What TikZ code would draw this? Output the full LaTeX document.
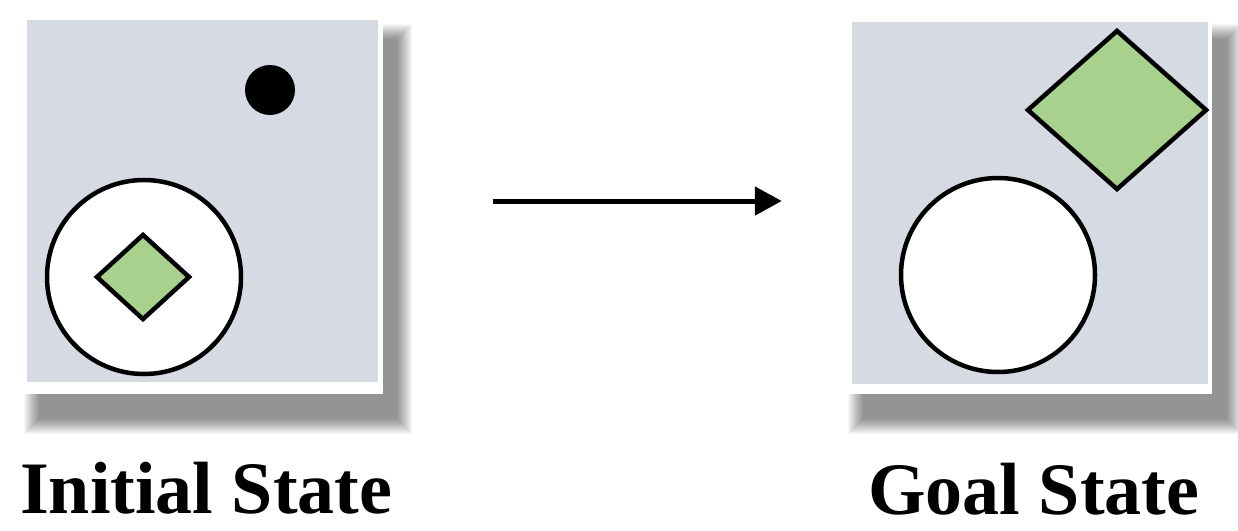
\documentclass[tikz,border=0pt]{standalone}
\usepackage{fontspec}
\setmainfont{Liberation Serif}
\usetikzlibrary{shapes.geometric,arrows.meta}
\definecolor{panelgray}{RGB}{214,219,227}
\definecolor{leafgreen}{RGB}{169,209,142}
\tikzset{
  panel/.style={draw=none,fill=panelgray,rectangle,inner sep=0pt,minimum width=#1,minimum height=362pt},
  ring/.style={circle,draw=black,line width=4.5pt,fill=white,inner sep=0pt,minimum size=194pt},
  gem/.style={diamond,draw=black,line width=4.5pt,fill=leafgreen,inner sep=0pt},
  caption/.style={anchor=base west,inner sep=0pt,font=\fontsize{74}{80}\selectfont\bfseries},
  flow/.style={line width=5pt,-{Triangle[length=27pt,width=28pt]}}
}
\newcommand{\softshadow}[4]{%
  \foreach \i in {0,...,15}{%
    \fill[black,opacity=0.03] ({#1+\i},{#2+\i}) rectangle ({#3-\i},{#4-\i});
  }%
}
\begin{document}
\begin{tikzpicture}[x=1pt,y=-1pt]
\useasboundingbox (0,0) rectangle (1238,530);
\fill[white] (0,0) rectangle (1238,530);
% left panel
\softshadow{24}{24}{412}{434}
\fill[white] (22,16) rectangle (383,394);
\node[panel=351pt] (init) at (202.5,201) {};
\node[circle,fill=black,inner sep=0pt,minimum size=50pt] (dot) at (270,90) {};
\node[ring] (ringA) at (144,277) {};
\node[gem,minimum width=94pt,minimum height=86pt] (gemA) at (143,277) {};
% right panel
\softshadow{848}{24}{1242}{434}
\fill[white] (847,17) rectangle (1212,394);
\node[panel=356pt] (goal) at (1030,202.5) {};
\node[ring] (ringB) at (998,275) {};
\node[gem,minimum width=180pt,minimum height=160pt] (gemB) at (1117,110) {};
% arrow
\draw[flow,shorten <=115pt,shorten >=70pt] (init.east) -- (goal.west |- init.east);
% captions
\node[caption] (capA) at (20,513) {Initial State};
\node[caption] (capB) at (868,514) {Goal State};
\end{tikzpicture}
\end{document}
